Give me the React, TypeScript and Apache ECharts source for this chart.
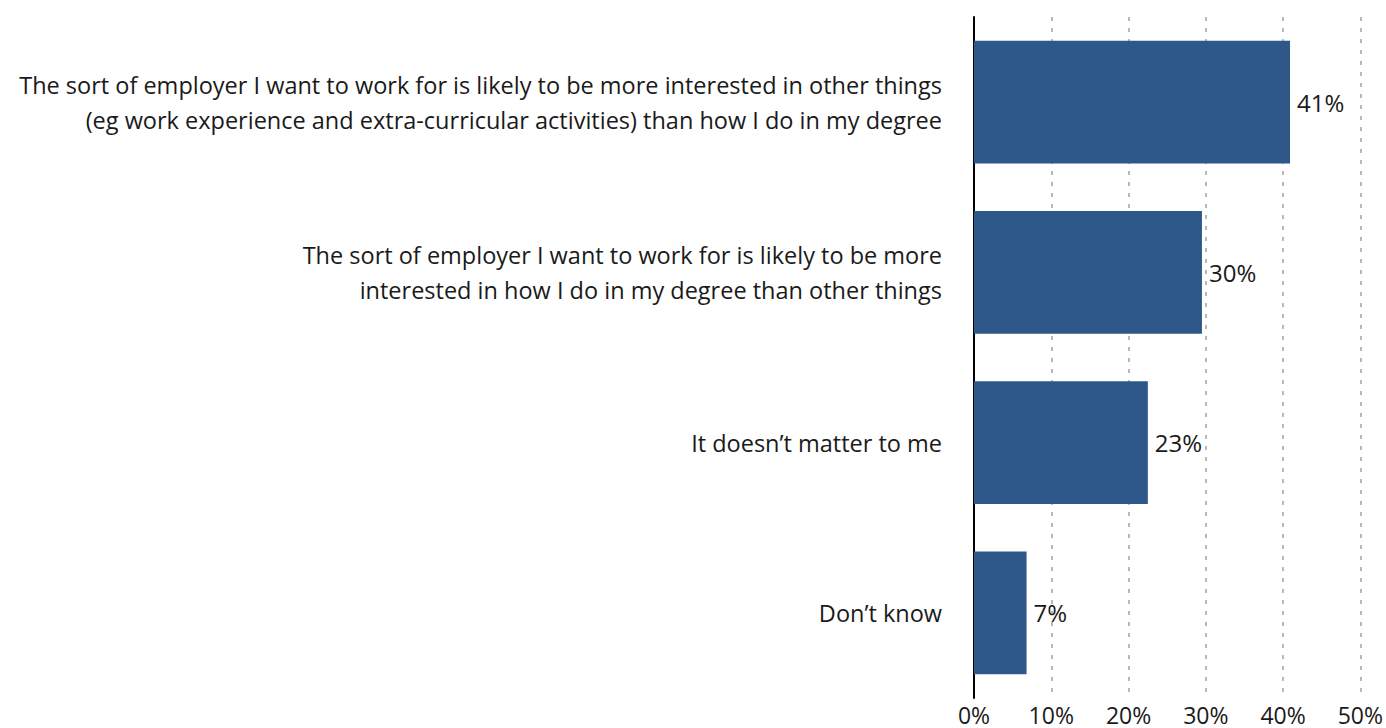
import React, { useEffect, useRef } from "react";
import * as echarts from "echarts";

const categories = [
  "The sort of employer I want to work for is likely to be more interested in other things\n(eg work experience and extra-curricular activities) than how I do in my degree",
  "The sort of employer I want to work for is likely to be more\ninterested in how I do in my degree than other things",
  "It doesn’t matter to me",
  "Don’t know",
];
const values = [40.9, 29.5, 22.5, 6.8];
const axisMax = 50;
const axisInterval = 10;

const FONT = "'Open Sans', 'Noto Sans', sans-serif";

export default function App() {
  const ref = useRef<HTMLDivElement>(null);
  useEffect(() => {
    if (!ref.current) return;
    const chart = echarts.init(ref.current, undefined, { renderer: "svg" });
    chart.setOption({
      animation: false,
      backgroundColor: "#ffffff",
      grid: { left: 974, right: 24, top: 17, bottom: 30, containLabel: false },
      xAxis: {
        type: "value",
        min: 0,
        max: axisMax,
        interval: axisInterval,
        axisLine: { show: false },
        axisTick: { show: false },
        axisLabel: {
          formatter: "{value}%",
          color: "#1a1a1a",
          fontSize: 23,
          fontFamily: FONT,
          margin: 5,
        },
        splitLine: {
          show: true,
          lineStyle: { color: "#b8b8b8", width: 2, type: [4, 7] },
        },
      },
      yAxis: {
        type: "category",
        data: categories,
        inverse: true,
        axisLine: { show: true, lineStyle: { color: "#000000", width: 2 } },
        axisTick: { show: false },
        axisLabel: {
          color: "#1a1a1a",
          fontSize: 23.5,
          fontFamily: FONT,
          margin: 32,
          align: "right",
          lineHeight: 35,
        },
        splitLine: { show: false },
      },
      series: [
        {
          type: "bar",
          data: values,
          barCategoryGap: "28%",
          itemStyle: { color: "#2e5889" },
          label: {
            show: true,
            position: "right",
            distance: 7,
            color: "#1a1a1a",
            fontSize: 24,
            fontFamily: FONT,
            formatter: (p: any) => Math.round(p.value) + "%",
          },
        },
      ],
    });
    return () => chart.dispose();
  }, []);
  return (
    <div
      ref={ref}
      style={{ position: "absolute", left: 0, top: 0, width: 1386, height: 728 }}
    />
  );
}
